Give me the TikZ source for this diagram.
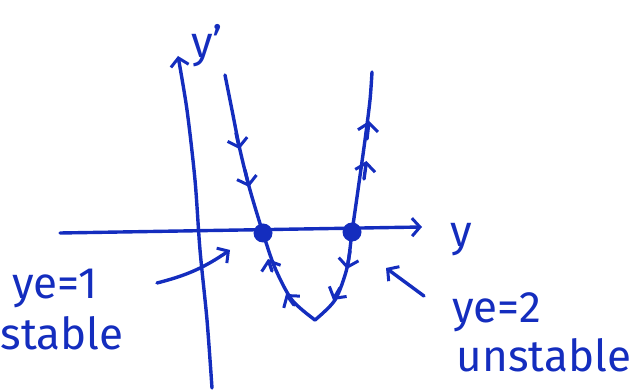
\documentclass[tikz,border=0pt]{standalone}
\usepackage{fontspec}
\setmainfont{Fira Sans}
\usetikzlibrary{arrows.meta, positioning}
\definecolor{inkblue}{RGB}{20,45,190}

\tikzset{
    ink/.style={draw=inkblue, line width=3.4pt, line cap=round, line join=round},
    barb/.style={-{Straight Barb[length=8pt, width=18pt, line width=3pt]}},
    chev/.style={-{Straight Barb[length=8pt, width=20pt, line width=3pt]}},
    eqdot/.style={circle, fill=inkblue, minimum size=19pt, inner sep=0pt},
    hand/.style={text=inkblue, font=\fontsize{44}{46}\selectfont}
}

\begin{document}
\begin{tikzpicture}[x=1pt, y=1pt]
    \useasboundingbox (0,0) rectangle (635,391);

    % axes
    \draw[ink, barb] (60,158) -- (422,164);
    \draw[ink, barb] plot[smooth] coordinates {(212,3) (207,71) (200,141) (195,211) (187,281) (178,335)};
    \node[hand] (ylab) at (461,151) {y};
    \node[hand] (yplab) at (207,345) {y'};

    % phase curve, left branch down to the bottom, right branch back up
    \draw[ink] plot[smooth] coordinates {(225,316) (232,281) (240,241) (250,201) (263,158) (275,123) (292,91) (315,71)};
    \draw[ink] plot[smooth] coordinates {(315,71) (335,91) (347,123) (352,159) (358,201) (365,251) (370,291) (372,319)};

    % flow direction
    \draw[ink, chev] (236,258) -- (239.5,242);
    \draw[ink, chev] (245,221) -- (249,204);
    \draw[ink, chev] (272,120) -- (268,132);
    \draw[ink, chev] (294,86) -- (286,97);
    \draw[ink, chev] (350,140) -- (347,122);
    \draw[ink, chev] (340,103) -- (333,91);
    \draw[ink, chev] (364,212) -- (366.5,230);
    \draw[ink, chev] (367,252) -- (369,270);

    % equilibria
    \node[eqdot] (eq1) at (263,158) {};
    \node[eqdot] (eq2) at (352,159) {};

    % labels
    \node[hand] (ye1) at (55,103) {ye=1};
    \node[hand] (st) at (62,58) {stable};
    \node[hand] (ye2) at (497,79) {ye=2};
    \node[hand] (unst) at (544,36) {unstable};
    \coordinate (st-tip) at (230,141);
    \coordinate (un-tip) at (386,123);
    \draw[ink, barb] (157,108) to[bend right=10] (st-tip);
    \draw[ink, barb] (424,95) -- (un-tip);
\end{tikzpicture}
\end{document}
